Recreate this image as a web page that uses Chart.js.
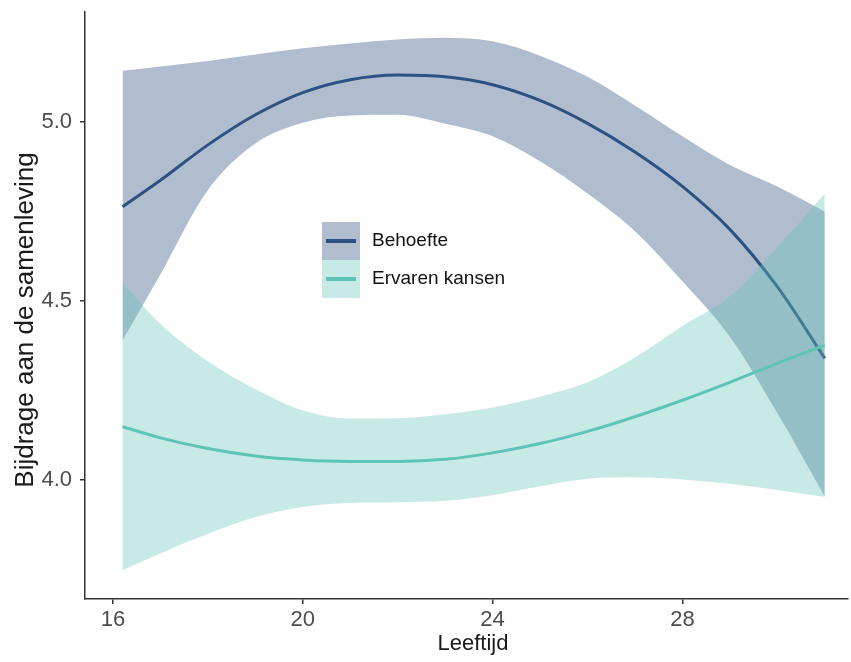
<!DOCTYPE html>
<html>
<head>
<meta charset="utf-8">
<script src="https://cdn.jsdelivr.net/npm/chart.js@4.4.1/dist/chart.umd.min.js"></script>
<style>
  html, body { margin: 0; padding: 0; background: #fff; }
  #wrap { width: 851px; height: 662px; }
</style>
</head>
<body>
<div id="wrap"><canvas id="smooth-chart" width="851" height="662"></canvas></div>
<script>
// age (Leeftijd) sample points along the smoothed curves
const ageX = [16.2, 17, 18, 19, 20, 21, 22, 23, 24, 25, 26, 27, 28, 29, 30, 31];

// Behoefte: fitted line and confidence band
const behoefteFit   = [4.763, 4.837, 4.936, 5.020, 5.082, 5.118, 5.131, 5.126, 5.104, 5.060, 4.996, 4.916, 4.820, 4.700, 4.540, 4.340];
const behoefteLower = [4.390, 4.575, 4.810, 4.940, 4.998, 5.018, 5.020, 4.995, 4.960, 4.890, 4.800, 4.695, 4.555, 4.400, 4.187, 3.954];
const behoefteUpper = [5.143, 5.155, 5.170, 5.188, 5.206, 5.219, 5.230, 5.235, 5.225, 5.185, 5.126, 5.046, 4.960, 4.880, 4.820, 4.750];

// Ervaren kansen: fitted line and confidence band
const kansenFit   = [4.149, 4.118, 4.088, 4.067, 4.056, 4.052, 4.052, 4.058, 4.076, 4.102, 4.136, 4.177, 4.223, 4.273, 4.326, 4.377];
const kansenLower = [3.748, 3.795, 3.850, 3.897, 3.925, 3.936, 3.938, 3.942, 3.958, 3.983, 4.004, 4.008, 4.002, 3.990, 3.972, 3.953];
const kansenUpper = [4.550, 4.436, 4.332, 4.254, 4.195, 4.172, 4.173, 4.184, 4.203, 4.233, 4.273, 4.342, 4.430, 4.513, 4.650, 4.800];

const seriesNames = ['Behoefte', 'Ervaren kansen'];
const xTicks = [16, 20, 24, 28];
const yTicks = [4.0, 4.5, 5.0];

const blueLine = '#2b5283';
const blueFill = 'rgba(44, 82, 130, 0.38)';
const tealLine = '#5ec4b6';
const tealFill = 'rgba(102, 197, 186, 0.36)';
const axisColor = '#333333';
const tickColor = '#4d4d4d';
const font = "'Liberation Sans', Arial, sans-serif";

const toPoints = (ys) => ageX.map((x, i) => ({ x: x, y: ys[i] }));

const bandEdge = (data, fillTarget, color, order) => ({
  data: toPoints(data),
  fill: fillTarget,
  backgroundColor: color,
  borderColor: 'transparent',
  borderWidth: 0,
  pointRadius: 0,
  cubicInterpolationMode: 'monotone',
  order: order
});

const fitLine = (data, label, color, order) => ({
  label: label,
  data: toPoints(data),
  fill: false,
  borderColor: color,
  borderWidth: 3,
  pointRadius: 0,
  cubicInterpolationMode: 'monotone',
  order: order
});

// draws axis titles and the in-panel legend (ggplot style)
const decorations = {
  id: 'decorations',
  afterDraw(chart) {
    const ctx = chart.ctx;
    ctx.save();
    ctx.fillStyle = '#1a1a1a';

    // x title
    ctx.font = '22px ' + font;
    ctx.textAlign = 'center';
    ctx.textBaseline = 'alphabetic';
    ctx.fillText('Leeftijd', 473, 650);

    // y title
    ctx.save();
    ctx.translate(33, 320);
    ctx.rotate(-Math.PI / 2);
    ctx.font = '26px ' + font;
    ctx.fillText('Bijdrage aan de samenleving', 0, 0);
    ctx.restore();

    // legend
    const keys = [
      { label: seriesNames[0], fill: blueFill, line: blueLine },
      { label: seriesNames[1], fill: tealFill, line: tealLine }
    ];
    const boxX = 322, boxW = 38, boxH = 38, top = 222;
    keys.forEach((k, i) => {
      const y = top + i * boxH;
      ctx.fillStyle = k.fill;
      ctx.fillRect(boxX, y, boxW, boxH);
      ctx.strokeStyle = k.line;
      ctx.lineWidth = 4;
      ctx.beginPath();
      ctx.moveTo(boxX + 4, y + boxH / 2);
      ctx.lineTo(boxX + boxW - 4, y + boxH / 2);
      ctx.stroke();
      ctx.fillStyle = '#111111';
      ctx.font = '19px ' + font;
      ctx.textAlign = 'left';
      ctx.textBaseline = 'middle';
      ctx.fillText(k.label, 372, y + boxH / 2);
    });
    ctx.restore();
  }
};

const noPadding = (axis) => {
  axis.paddingTop = 0;
  axis.paddingBottom = 0;
  axis.paddingLeft = 0;
  axis.paddingRight = 0;
};

new Chart(document.getElementById('smooth-chart'), {
  type: 'line',
  data: {
    datasets: [
      bandEdge(behoefteUpper, 1, blueFill, 6),
      bandEdge(behoefteLower, false, 'transparent', 5),
      fitLine(behoefteFit, seriesNames[0], blueLine, 4),
      bandEdge(kansenUpper, 4, tealFill, 3),
      bandEdge(kansenLower, false, 'transparent', 2),
      fitLine(kansenFit, seriesNames[1], tealLine, 1)
    ]
  },
  options: {
    responsive: false,
    animation: false,
    events: [],
    layout: { padding: { top: 12, right: 3, left: 0, bottom: 0 } },
    plugins: {
      legend: { display: false },
      tooltip: { enabled: false }
    },
    scales: {
      x: {
        type: 'linear',
        min: 15.41,
        max: 31.49,
        afterBuildTicks: (axis) => { axis.ticks = xTicks.map((v) => ({ value: v })); },
        afterFit: (axis) => { axis.height = 63; noPadding(axis); },
        grid: { drawOnChartArea: false, drawTicks: true, tickLength: 5, color: axisColor, lineWidth: 1.5 },
        border: { display: true, color: axisColor, width: 1.5 },
        ticks: { color: tickColor, font: { family: font, size: 22 }, padding: 3 }
      },
      y: {
        type: 'linear',
        min: 3.668,
        max: 5.307,
        afterBuildTicks: (axis) => { axis.ticks = yTicks.map((v) => ({ value: v })); },
        afterFit: (axis) => { axis.width = 85; noPadding(axis); },
        grid: { drawOnChartArea: false, drawTicks: true, tickLength: 5, color: axisColor, lineWidth: 1.5 },
        border: { display: true, color: axisColor, width: 1.5 },
        ticks: {
          color: tickColor,
          font: { family: font, size: 22 },
          padding: 8,
          callback: (v) => v.toFixed(1)
        }
      }
    }
  },
  plugins: [decorations]
});
</script>
</body>
</html>
